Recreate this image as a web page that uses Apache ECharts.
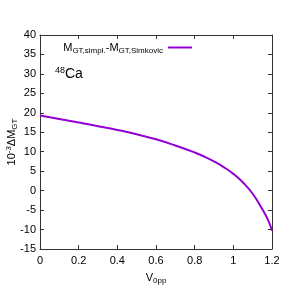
<!DOCTYPE html>
<html><head><meta charset="utf-8">
<script src="https://cdn.jsdelivr.net/npm/echarts@6/dist/echarts.min.js"></script>
<style>html,body{margin:0;padding:0;background:#fff}#c{width:289px;height:289px}</style>
</head><body><div id="c"></div>
<script>
const v0pp = [0, 0.1, 0.2, 0.25, 0.3, 0.4, 0.5, 0.6, 0.7, 0.8, 0.85, 0.9, 0.95, 1.0, 1.05, 1.1, 1.15, 1.18, 1.2];
const deltaM = [19.3, 18.4, 17.5, 17.05, 16.55, 15.6, 14.5, 13.2, 11.6, 9.8, 8.75, 7.5, 6.05, 4.3, 2.1, -0.8, -4.8, -7.6, -10.3];
const xTicks = [0, 0.2, 0.4, 0.6, 0.8, 1, 1.2];
const yTicks = [-15, -10, -5, 0, 5, 10, 15, 20, 25, 30, 35, 40];

const FONT = 'Liberation Sans';
const chart = echarts.init(document.getElementById('c'), null, {renderer: 'canvas'});
const axisCommon = {
  axisLine: {show: true, onZero: false, lineStyle: {color: '#333', width: 1}},
  axisTick: {show: true, inside: true, length: 4, lineStyle: {color: '#333'}},
  splitLine: {show: false},
};
chart.setOption({
  animation: false,
  textStyle: {fontFamily: FONT},
  grid: {left: 40, right: 17, top: 35, bottom: 40, outerBoundsMode: 'none', containLabel: false},
  legend: {
    data: ['diff'], right: 92, top: 37, align: 'right',
    icon: 'rect', itemWidth: 24, itemHeight: 2, itemGap: 4,
    formatter: () => 'M{s|GT,simpl.}-M{s|GT,Simkovic}',
    textStyle: {fontFamily: FONT, fontSize: 11, color: '#000',
      rich: {s: {fontFamily: FONT, fontSize: 8, color: '#000', verticalAlign: 'bottom', padding: [6, 0, 0, 0]}}}
  },
  graphic: [{
    type: 'text', left: 55, top: 66,
    style: {text: '{sup|48}Ca', fontFamily: FONT, fontSize: 14, fill: '#000',
      rich: {sup: {fontFamily: FONT, fontSize: 9, fill: '#000', verticalAlign: 'top', padding: [0, 0, 8, 0]}}}
  }],
  xAxis: [{
    type: 'value', min: 0, max: 1.2, interval: 0.2, ...axisCommon,
    axisLabel: {color: '#000', fontSize: 11, fontFamily: FONT, margin: 6,
      formatter: v => xTicks.find(t => Math.abs(t - v) < 1e-9) !== undefined ? String(+v.toFixed(1)) : ''},
    name: 'V{s|0pp}', nameLocation: 'middle', nameGap: 22, nameMoveOverlap: false,
    nameTextStyle: {color: '#000', fontSize: 11, fontFamily: FONT,
      rich: {s: {fontSize: 8, fontFamily: FONT, color: '#000', padding: [6, 0, 0, 0]}}}
  }, {
    type: 'value', position: 'top', min: 0, max: 1.2, interval: 0.2, ...axisCommon,
    axisLabel: {show: false}
  }],
  yAxis: [{
    type: 'value', min: -15, max: 40, interval: 5, ...axisCommon,
    axisLabel: {color: '#000', fontSize: 11, fontFamily: FONT, margin: 4},
    name: '10{p|-3}ΔM{s|GT}', nameLocation: 'middle', nameGap: 21, nameRotate: 90, nameMoveOverlap: false,
    nameTextStyle: {color: '#000', fontSize: 11, fontFamily: FONT,
      rich: {p: {fontSize: 8, fontFamily: FONT, color: '#000', padding: [0, 0, 6, 0]},
             s: {fontSize: 8, fontFamily: FONT, color: '#000', padding: [6, 0, 0, 0]}}}
  }, {
    type: 'value', position: 'right', min: -15, max: 40, interval: 5, ...axisCommon,
    axisLabel: {show: false}
  }],
  series: [{
    name: 'diff', type: 'line', smooth: 0.5, showSymbol: false,
    lineStyle: {color: '#9400D3', width: 2}, itemStyle: {color: '#9400D3'},
    data: v0pp.map((x, i) => [x, deltaM[i]])
  }]
});
</script></body></html>
